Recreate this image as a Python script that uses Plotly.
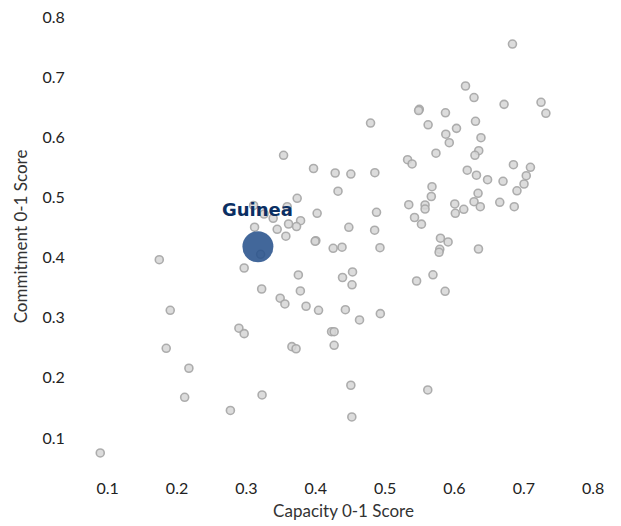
import plotly.graph_objects as go

# Capacity (x) and Commitment (y) scores for all countries
capacity = [
    0.6836, 0.6159, 0.6282, 0.6715, 0.7248, 0.7318, 0.5493, 0.5483, 0.5870, 0.4790,
    0.5620, 0.6303, 0.6029, 0.5875, 0.5925, 0.6382, 0.5733, 0.6350, 0.6295, 0.5324,
    0.5389, 0.6850, 0.7095, 0.7035, 0.6184, 0.6317, 0.6477, 0.6700, 0.7003, 0.6901,
    0.5676, 0.5666, 0.6340, 0.6282, 0.6372, 0.6653, 0.6862, 0.5341, 0.5576, 0.5576,
    0.6004, 0.6012, 0.6134, 0.5424, 0.5524, 0.5798, 0.5908, 0.5788, 0.5778, 0.6346,
    0.4852, 0.4506, 0.4321, 0.4876, 0.4477, 0.4849, 0.4379, 0.4926, 0.3536, 0.3968,
    0.4280, 0.3732, 0.3104, 0.3588, 0.4020, 0.3255, 0.3386, 0.3781, 0.3608, 0.3723,
    0.3118, 0.3444, 0.3569, 0.4001, 0.3991, 0.4251, 0.3205, 0.1744, 0.2968, 0.3220,
    0.3749, 0.3778, 0.3487, 0.3555, 0.3860, 0.4040, 0.1902, 0.4386, 0.4427, 0.2892,
    0.2968, 0.4228, 0.4265, 0.1844, 0.3656, 0.3716, 0.4265, 0.2171, 0.2110, 0.3226,
    0.2769, 0.0893, 0.4506, 0.4520, 0.4530, 0.4523, 0.4631, 0.4931, 0.5454, 0.5690,
    0.5865, 0.5615,
]
commitment = [
    0.7551, 0.6853, 0.6661, 0.6548, 0.6582, 0.6399, 0.6465, 0.6445, 0.6407, 0.6237,
    0.6208, 0.6266, 0.6149, 0.6051, 0.5910, 0.5993, 0.5735, 0.5777, 0.5700, 0.5627,
    0.5556, 0.5544, 0.5501, 0.5361, 0.5453, 0.5369, 0.5295, 0.5268, 0.5223, 0.5110,
    0.5178, 0.5015, 0.5069, 0.4929, 0.4846, 0.4919, 0.4846, 0.4879, 0.4874, 0.4807,
    0.4891, 0.4736, 0.4802, 0.4666, 0.4555, 0.4322, 0.4259, 0.4137, 0.4087, 0.4142,
    0.5411, 0.5389, 0.5103, 0.4753, 0.4503, 0.4455, 0.4172, 0.4164, 0.5700, 0.5481,
    0.5406, 0.4985, 0.4866, 0.4846, 0.4736, 0.4724, 0.4653, 0.4613, 0.4558, 0.4516,
    0.4505, 0.4470, 0.4355, 0.4280, 0.4270, 0.4154, 0.4054, 0.3964, 0.3826, 0.3477,
    0.3710, 0.3444, 0.3324, 0.3228, 0.3190, 0.3123, 0.3123, 0.3668, 0.3133, 0.2825,
    0.2734, 0.2767, 0.2767, 0.2491, 0.2518, 0.2483, 0.2541, 0.2159, 0.1676, 0.1715,
    0.1457, 0.0750, 0.1876, 0.1349, 0.3760, 0.3547, 0.2962, 0.3067, 0.3610, 0.3713,
    0.3439, 0.1798,
]

highlight_name = "Guinea"
highlight_capacity = [0.3166]
highlight_commitment = [0.418]

x_ticks = [0.1, 0.2, 0.3, 0.4, 0.5, 0.6, 0.7, 0.8]
y_ticks = [0.1, 0.2, 0.3, 0.4, 0.5, 0.6, 0.7, 0.8]
x_title = "Capacity 0-1 Score"
y_title = "Commitment 0-1 Score"

fig = go.Figure()

fig.add_trace(go.Scatter(
    x=capacity, y=commitment, mode="markers",
    marker=dict(size=8, color="rgba(214,214,214,0.85)",
                line=dict(color="rgba(165,165,165,0.9)", width=1.6)),
    hoverinfo="x+y", showlegend=False,
))

fig.add_trace(go.Scatter(
    x=highlight_capacity, y=highlight_commitment, mode="markers",
    marker=dict(size=31, color="rgba(40,82,140,0.88)", line=dict(width=0)),
    name=highlight_name, showlegend=False,
))

fig.add_annotation(
    x=highlight_capacity[0], y=highlight_commitment[0], text="<b>" + highlight_name + "</b>",
    showarrow=False, yshift=37,
    font=dict(family="DejaVu Sans", size=18, color="#0b2f63"),
)

fig.update_layout(
    width=621, height=526,
    margin=dict(l=73, r=7, t=5, b=58),
    plot_bgcolor="white", paper_bgcolor="white",
    font=dict(family="Lato", size=16, color="#222222"),
)
fig.update_xaxes(
    range=[0.05, 0.83], tickvals=x_ticks, ticktext=[f"{v:.1f}" for v in x_ticks],
    showgrid=False, zeroline=False, showline=False,
    ticks="outside", ticklen=6, tickcolor="rgba(0,0,0,0)",
    title=dict(text=x_title, font=dict(size=17, color="#333333"), standoff=8),
)
fig.update_yaxes(
    range=[0.05, 0.82], tickvals=y_ticks, ticktext=[f"{v:.1f}" for v in y_ticks],
    showgrid=False, zeroline=False, showline=False,
    ticks="outside", ticklen=4, tickcolor="rgba(0,0,0,0)",
    title=dict(text=y_title, font=dict(size=17, color="#333333"), standoff=10),
)

fig.write_html("out.html", config={"displayModeBar": False},
               post_script="document.body.style.margin='0px';")
